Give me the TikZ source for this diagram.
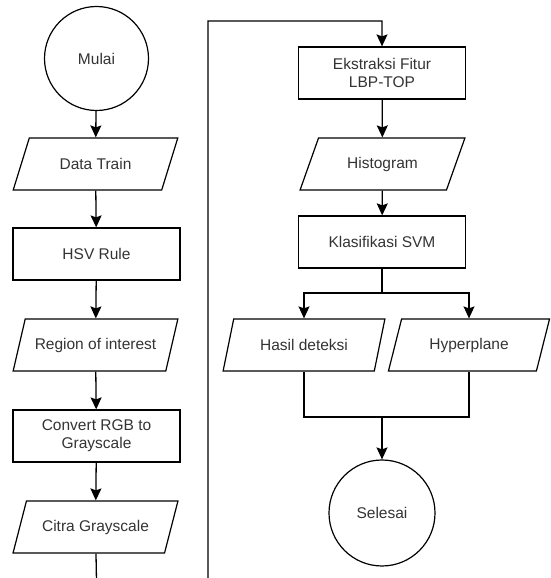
\documentclass[tikz,border=0pt]{standalone}
\usepackage{fontspec}
\setmainfont{Liberation Sans}
\usetikzlibrary{arrows.meta}
\usetikzlibrary{shapes.geometric}

\begin{document}
\begin{tikzpicture}[x = 1pt, y = 1pt, font = \fontsize{15.5}{18}\selectfont]
\tikzstyle{terminalStyle} = [shape = circle, draw, line width = 1.2pt, minimum size = 104pt, text = black!80]
\tikzstyle{processStyle} = [shape = rectangle, draw, line width = 1.2pt, minimum width = 167pt, minimum height = 52pt, align = center, text = black!80]
\tikzstyle{dataStyle} = [shape = trapezium, trapezium left angle = 63, trapezium right angle = 117, trapezium stretches = true, draw, line width = 1.2pt, minimum width = 165pt, minimum height = 52pt, inner xsep = 2pt, text = black!80]
\tikzstyle{dataNarrowStyle} = [dataStyle, trapezium left angle = 69, trapezium right angle = 111, minimum width = 162pt]
\tikzstyle{flowStyle} = [line width = 1.3pt, -{Stealth[length=12pt, width=11pt, inset=2pt]}]
\tikzstyle{lineStyle} = [line width = 1.3pt]
\useasboundingbox (0, 0) rectangle (550, 578);
\node[terminalStyle] (mulai) at (96.5, 519.5) {Mulai};
\node[dataStyle] (train) at (95.5, 414) {Data Train};
\node[processStyle] (hsv) at (96.5, 324) {HSV Rule};
\node[dataStyle] (roi) at (95.5, 233) {Region of interest};
\node[processStyle] (convert) at (96.5, 142) {Convert RGB to\\Grayscale};
\node[dataStyle] (gray) at (95.5, 51) {Citra Grayscale};
\node[processStyle] (lbptop) at (382, 505) {Ekstraksi Fitur\\LBP-TOP};
\node[dataStyle] (histo) at (382.5, 414) {Histogram};
\node[processStyle] (svm) at (382, 336) {Klasifikasi SVM};
\node[dataNarrowStyle] (hasil) at (304, 233) {Hasil deteksi};
\node[dataNarrowStyle] (hyper) at (469, 233) {Hyperplane};
\node[terminalStyle, minimum size = 106pt] (selesai) at (382, 65) {Selesai};
\coordinate (loopA) at (96.5, -3);
\coordinate (loopB) at (208, -3);
\coordinate (loopC) at (208, 557);
\coordinate (loopD) at (382, 557);
\coordinate (split) at (382, 285);
\coordinate (merge) at (382, 161);
\draw[flowStyle] (mulai) -- (train);
\draw[flowStyle] (train) -- (hsv);
\draw[flowStyle] (hsv) -- (roi);
\draw[flowStyle] (roi) -- (convert);
\draw[flowStyle] (convert) -- (gray);
\draw[flowStyle] (gray) -- (loopA) -- (loopB) -- (loopC) -- (loopD) -- (lbptop);
\draw[flowStyle] (lbptop) -- (histo);
\draw[flowStyle] (histo) -- (svm);
\draw[lineStyle] (svm) -- (split);
\draw[flowStyle] (split) -| (hasil);
\draw[flowStyle] (split) -| (hyper);
\draw[lineStyle] (hasil) |- (merge);
\draw[lineStyle] (hyper) |- (merge);
\draw[flowStyle] (merge) -- (selesai);
\end{tikzpicture}
\end{document}
